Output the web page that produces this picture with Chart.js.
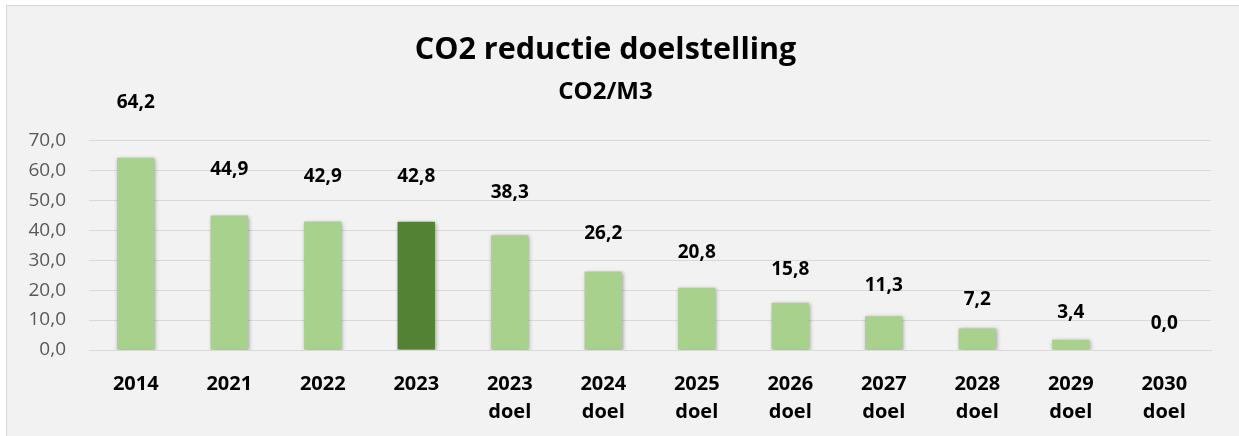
<!DOCTYPE html>
<html>
<head>
<meta charset="utf-8">
<script src="https://cdn.jsdelivr.net/npm/chart.js@4"></script>
<style>
  html, body { margin: 0; padding: 0; background: #ffffff; }
  #frame {
    position: absolute; left: 6px; top: 5px; width: 1260px; height: 460px;
    background: #f2f2f2; border: 1px solid #d9d9d9; box-sizing: border-box;
  }
  #wrap { position: absolute; left: 0; top: 0; width: 1239px; height: 436px; }
</style>
</head>
<body>
<div id="frame"></div>
<div id="wrap"><canvas id="co2Chart"></canvas></div>
<script>
const years = [['2014'], ['2021'], ['2022'], ['2023'], ['2023', 'doel'], ['2024', 'doel'], ['2025', 'doel'],
    ['2026', 'doel'], ['2027', 'doel'], ['2028', 'doel'], ['2029', 'doel'], ['2030', 'doel']];
const co2PerM3 = [64.2, 44.9, 42.9, 42.8, 38.3, 26.2, 20.8, 15.8, 11.3, 7.2, 3.4, 0.0];
const yTicks = [0, 10, 20, 30, 40, 50, 60, 70];

const lightGreen = '#a9d18e';
const darkGreen = '#548235';
const fontName = "'Open Sans', 'Liberation Sans', sans-serif";

const fmt = (v) => v.toFixed(1).replace('.', ',');

// soft shadow behind the bars, like the spreadsheet chart
const barShadow = {
    id: 'barShadow',
    beforeDatasetDraw(chart) {
        const ctx = chart.ctx;
        ctx.save();
        ctx.shadowColor = 'rgba(0, 0, 0, 0.35)';
        ctx.shadowBlur = 4;
        ctx.shadowOffsetX = 1;
        ctx.shadowOffsetY = 1;
    },
    afterDatasetDraw(chart) {
        chart.ctx.restore();
    }
};

// value labels, placed on their own (hidden) scale
const valueLabels = {
    id: 'valueLabels',
    afterDatasetsDraw(chart) {
        const ctx = chart.ctx;
        const meta = chart.getDatasetMeta(0);
        const scale = chart.scales.yLabel;
        ctx.save();
        ctx.font = 'bold 19px ' + fontName;
        ctx.fillStyle = '#000000';
        ctx.textAlign = 'center';
        ctx.textBaseline = 'middle';
        meta.data.forEach((bar, i) => {
            const v = co2PerM3[i];
            ctx.fillText(fmt(v), bar.x, scale.getPixelForValue(v));
        });
        ctx.restore();
    }
};

new Chart(document.getElementById('co2Chart'), {
    type: 'bar',
    data: {
        labels: years,
        datasets: [{
            label: 'CO2/M3',
            data: co2PerM3,
            backgroundColor: co2PerM3.map((v, i) => i === 3 ? darkGreen : lightGreen),
            borderWidth: 0,
            barPercentage: 0.4,
            categoryPercentage: 1.0
        }]
    },
    options: {
        responsive: true,
        maintainAspectRatio: false,
        animation: false,
        layout: { padding: { left: 0, right: 28, top: 0, bottom: 0 } },
        plugins: {
            legend: { display: false },
            tooltip: { enabled: false },
            title: {
                display: true,
                text: 'CO2 reductie doelstelling',
                color: '#000000',
                font: { family: fontName, size: 30.5, weight: 'bold', lineHeight: 1.2 },
                padding: { top: 32, bottom: 4 }
            },
            subtitle: {
                display: true,
                text: 'CO2/M3',
                color: '#000000',
                font: { family: fontName, size: 24, weight: 'bold', lineHeight: 1.2 },
                padding: { top: 5, bottom: 34 }
            }
        },
        scales: {
            x: {
                grid: { display: false, drawTicks: false },
                border: { display: true, color: '#d9d9d9', width: 1 },
                ticks: {
                    color: '#000000',
                    font: { family: fontName, size: 20, weight: 'bold', lineHeight: 1.4 },
                    padding: 20,
                    maxRotation: 0,
                    autoSkip: false
                },
                afterFit: (scale) => { scale.height = 86; }
            },
            y: {
                min: 0,
                max: 70,
                afterBuildTicks: (scale) => { scale.ticks = yTicks.map(v => ({ value: v })); },
                grid: { color: '#d9d9d9', lineWidth: 1, drawTicks: false },
                border: { display: false },
                ticks: {
                    color: '#595959',
                    font: { family: fontName, size: 19 },
                    padding: 23,
                    callback: (v) => fmt(v)
                },
                afterFit: (scale) => { scale.width = 89; }
            },
            yLabel: {
                display: false,
                min: -7.54,
                max: 53.33
            }
        }
    },
    plugins: [barShadow, valueLabels]
});
</script>
</body>
</html>
